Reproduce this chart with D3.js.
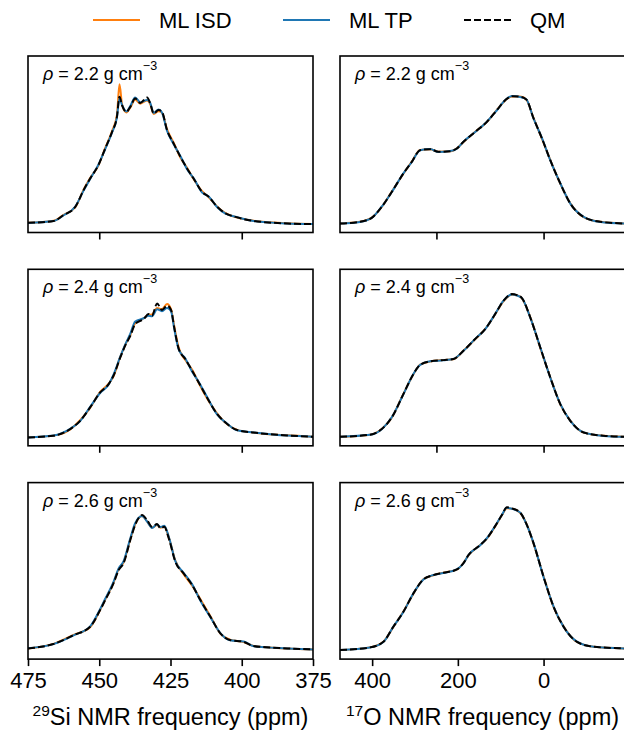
<!DOCTYPE html>
<html>
<head>
<meta charset="utf-8">
<script src="https://cdn.jsdelivr.net/npm/d3@7"></script>
<style>
  body { margin: 0; background: #fff; }
  text { font-family: "Liberation Sans", Arial, Helvetica, sans-serif; fill: #000; }
</style>
</head>
<body>
<svg id="chart" width="624" height="735"></svg>
<script>
// series names and colours
const seriesNames = ["ML ISD", "ML TP", "QM"];
const densities = ["2.2", "2.4", "2.6"];

// 29Si, rho = 2.2
const si22Ppm = [475, 466, 462.6, 458.4, 455.5, 453.2, 450.3, 447.9, 445.5, 443.8, 442.9, 442.0, 440.5, 439.1, 437.4, 435.6, 433.2, 432.1, 430.9, 429.2, 428.0, 426.2, 423.9, 421.5, 419.2, 416.9, 413.9, 411.6, 408.6, 405.7, 402.2, 395.8, 384, 375];
const si22Qm  = [0.005, 0.02, 0.064, 0.129, 0.259, 0.349, 0.453, 0.582, 0.711, 0.828, 0.983, 0.917, 0.866, 0.905, 0.970, 0.936, 0.978, 0.932, 0.854, 0.880, 0.867, 0.724, 0.621, 0.517, 0.427, 0.349, 0.245, 0.207, 0.129, 0.078, 0.051, 0.02, 0.0, -0.005];
const si22Isd = [0.005, 0.021, 0.066, 0.127, 0.262, 0.352, 0.450, 0.586, 0.718, 0.840, 1.081, 0.925, 0.862, 0.900, 0.962, 0.930, 0.955, 0.925, 0.850, 0.872, 0.860, 0.730, 0.628, 0.510, 0.432, 0.345, 0.250, 0.204, 0.131, 0.080, 0.050, 0.021, 0.001, -0.005];
const si22Tp  = [0.004, 0.019, 0.062, 0.132, 0.255, 0.346, 0.456, 0.578, 0.706, 0.822, 0.972, 0.920, 0.870, 0.912, 0.978, 0.940, 0.958, 0.935, 0.858, 0.885, 0.862, 0.718, 0.615, 0.522, 0.422, 0.352, 0.240, 0.210, 0.126, 0.076, 0.052, 0.019, 0.0, -0.004];

// 29Si, rho = 2.4
const si24Ppm = [475, 466.1, 460.2, 456.7, 453.2, 449.7, 446.7, 445.0, 442.6, 440.9, 439.1, 437.4, 434.4, 432.7, 431.5, 429.7, 428.0, 426.2, 424.8, 423.7, 422.1, 419.8, 417.4, 415.1, 412.2, 408.6, 405.1, 401.6, 395.8, 384, 375];
const si24Qm  = [-0.005, 0.008, 0.06, 0.124, 0.228, 0.344, 0.409, 0.474, 0.616, 0.707, 0.784, 0.875, 0.914, 0.953, 0.94, 1.035, 0.984, 1.017, 0.984, 0.849, 0.681, 0.603, 0.512, 0.422, 0.305, 0.176, 0.099, 0.052, 0.033, 0.01, 0.0];
const si24Isd = [-0.004, 0.009, 0.058, 0.128, 0.224, 0.348, 0.412, 0.470, 0.622, 0.712, 0.790, 0.880, 0.920, 0.945, 0.950, 1.000, 0.990, 1.030, 0.990, 0.860, 0.690, 0.596, 0.520, 0.418, 0.300, 0.180, 0.097, 0.054, 0.032, 0.011, 0.001];
const si24Tp  = [-0.005, 0.010, 0.062, 0.122, 0.232, 0.340, 0.405, 0.482, 0.624, 0.716, 0.800, 0.895, 0.920, 0.940, 0.935, 0.990, 0.975, 1.000, 0.975, 0.840, 0.676, 0.608, 0.505, 0.426, 0.310, 0.172, 0.101, 0.050, 0.034, 0.009, 0.0];

// 29Si, rho = 2.6
const si26Ppm = [475, 466.1, 459.0, 453.2, 449.7, 447.9, 445.0, 443.2, 441.5, 439.1, 437.4, 435.0, 433.2, 431.5, 429.7, 428.5, 427.2, 425.6, 423.3, 420.4, 417.4, 414.5, 411.0, 407.5, 404.1, 399.3, 395.8, 384, 375];
const si26Qm  = [0.013, 0.047, 0.116, 0.181, 0.31, 0.388, 0.518, 0.621, 0.673, 0.854, 0.971, 1.048, 1.009, 0.957, 0.978, 0.945, 0.957, 0.867, 0.686, 0.595, 0.505, 0.388, 0.259, 0.13, 0.078, 0.064, 0.031, 0.013, 0.005];
const si26Isd = [0.012, 0.048, 0.118, 0.178, 0.312, 0.392, 0.522, 0.628, 0.680, 0.860, 0.975, 1.040, 1.000, 0.950, 0.970, 0.950, 0.962, 0.875, 0.694, 0.590, 0.500, 0.395, 0.262, 0.128, 0.080, 0.062, 0.032, 0.012, 0.005];
const si26Tp  = [0.014, 0.046, 0.114, 0.184, 0.318, 0.398, 0.530, 0.634, 0.688, 0.868, 0.985, 1.040, 0.998, 0.948, 0.975, 0.955, 0.965, 0.880, 0.690, 0.600, 0.510, 0.382, 0.255, 0.132, 0.076, 0.066, 0.030, 0.013, 0.004];

// 17O, rho = 2.2
const o22Ppm = [475, 428.3, 401, 377.6, 354.2, 327.1, 307.5, 288, 264.7, 245.3, 218, 202.4, 186.9, 159.6, 132.3, 108.9, 89.5, 73.8, 54.4, 40.4, 23.3, 3.7, -15.7, -39, -62.4, -93.5, -132.5, -190];
const o22Qm  = [0, 0.013, 0.044, 0.129, 0.245, 0.388, 0.478, 0.569, 0.577, 0.556, 0.561, 0.582, 0.634, 0.711, 0.789, 0.88, 0.957, 0.988, 0.983, 0.963, 0.815, 0.66, 0.491, 0.311, 0.155, 0.051, 0.013, 0];
const o22Isd = [0, 0.013, 0.045, 0.128, 0.247, 0.386, 0.480, 0.570, 0.576, 0.557, 0.560, 0.583, 0.633, 0.712, 0.788, 0.882, 0.955, 0.986, 0.985, 0.962, 0.818, 0.657, 0.493, 0.309, 0.156, 0.050, 0.013, 0];
const o22Tp  = [0, 0.012, 0.043, 0.130, 0.244, 0.389, 0.477, 0.568, 0.578, 0.555, 0.562, 0.581, 0.635, 0.710, 0.790, 0.879, 0.958, 0.990, 0.982, 0.964, 0.813, 0.662, 0.490, 0.312, 0.154, 0.052, 0.012, 0];

// 17O, rho = 2.4
const o24Ppm = [475, 405, 377.6, 354.2, 327.1, 303.7, 288, 264.7, 233.6, 210.3, 186.9, 159.6, 136.2, 112.9, 93.4, 73.8, 62.1, 50.5, 31, 7.7, -15.7, -39, -62.4, -93.5, -140, -190];
const o24Qm  = [0, 0.016, 0.06, 0.15, 0.331, 0.487, 0.559, 0.585, 0.595, 0.603, 0.668, 0.759, 0.836, 0.953, 1.056, 1.108, 1.1, 1.077, 0.926, 0.693, 0.46, 0.254, 0.124, 0.033, 0.008, 0];
const o24Isd = [0, 0.016, 0.061, 0.149, 0.333, 0.485, 0.560, 0.584, 0.596, 0.602, 0.669, 0.758, 0.837, 0.951, 1.054, 1.102, 1.098, 1.075, 0.928, 0.690, 0.462, 0.252, 0.125, 0.032, 0.008, 0];
const o24Tp  = [0, 0.015, 0.059, 0.151, 0.330, 0.488, 0.558, 0.586, 0.594, 0.604, 0.667, 0.760, 0.835, 0.954, 1.057, 1.104, 1.097, 1.076, 0.925, 0.695, 0.459, 0.255, 0.123, 0.034, 0.007, 0];

// 17O, rho = 2.6
const o26Ppm = [475, 405, 373.8, 350.5, 327.1, 303.7, 280.4, 257, 233.6, 202.4, 186.9, 175, 147.9, 132.3, 108.9, 97.3, 85.6, 73.8, 54.4, 38.8, 23.3, 0, -23.4, -46.8, -78, -117, -190];
const o26Qm  = [0, 0.021, 0.064, 0.181, 0.297, 0.44, 0.549, 0.582, 0.6, 0.626, 0.675, 0.738, 0.815, 0.867, 0.984, 1.048, 1.108, 1.1, 1.066, 0.97, 0.828, 0.569, 0.336, 0.181, 0.064, 0.026, 0.013];
const o26Isd = [0, 0.021, 0.065, 0.180, 0.299, 0.438, 0.550, 0.581, 0.601, 0.625, 0.676, 0.737, 0.816, 0.866, 0.982, 1.046, 1.100, 1.098, 1.064, 0.972, 0.826, 0.571, 0.334, 0.182, 0.063, 0.026, 0.013];
const o26Tp  = [0, 0.020, 0.063, 0.182, 0.296, 0.441, 0.548, 0.583, 0.599, 0.627, 0.674, 0.739, 0.814, 0.868, 0.985, 1.049, 1.104, 1.097, 1.067, 0.969, 0.830, 0.567, 0.338, 0.180, 0.065, 0.025, 0.012];

// axis domains and ticks
const siDomain = [475, 375];
const oDomain = [475, -190];
const yDomain = [-0.07, 1.30];
const siTicksUpper = [450, 400];
const siTicksBottom = [475, 450, 425, 400, 375];
const oTicksUpper = [250, 0];
const oTicksBottom = [400, 200, 0];

const colors = {"ML ISD": "#ff7f0e", "ML TP": "#1f77b4", "QM": "#000"};

const panels = [
  {col: 0, row: 0, ppm: si22Ppm, isd: si22Isd, tp: si22Tp, qm: si22Qm},
  {col: 1, row: 0, ppm: o22Ppm, isd: o22Isd, tp: o22Tp, qm: o22Qm},
  {col: 0, row: 1, ppm: si24Ppm, isd: si24Isd, tp: si24Tp, qm: si24Qm},
  {col: 1, row: 1, ppm: o24Ppm, isd: o24Isd, tp: o24Tp, qm: o24Qm},
  {col: 0, row: 2, ppm: si26Ppm, isd: si26Isd, tp: si26Tp, qm: si26Qm},
  {col: 1, row: 2, ppm: o26Ppm, isd: o26Isd, tp: o26Tp, qm: o26Qm}
];

const svg = d3.select("#chart");
const pw = 285, ph = 176.5;
const colX = [28, 340];
const rowY = [56, 269.3, 482.6];

// legend
const legendX = [93, 283, 464];
seriesNames.forEach((name, i) => {
  const lg = svg.append("g").attr("transform", `translate(${legendX[i]},20)`);
  lg.append("line")
    .attr("x1", 0).attr("x2", 47).attr("y1", 0).attr("y2", 0)
    .attr("stroke", colors[name]).attr("stroke-width", 2)
    .attr("stroke-dasharray", name === "QM" ? "7,3" : null);
  lg.append("text").attr("x", 66).attr("y", 7.5)
    .style("font-size", "22px").text(name);
});

panels.forEach((p, k) => {
  const g = svg.append("g").attr("transform", `translate(${colX[p.col]},${rowY[p.row]})`);
  const x = d3.scaleLinear().domain(p.col === 0 ? siDomain : oDomain).range([0, pw]);
  const y = d3.scaleLinear().domain(yDomain).range([ph, 0]);

  g.append("clipPath").attr("id", "clip" + k)
    .append("rect").attr("width", pw).attr("height", ph);

  const line = d3.line()
    .x((d, i) => x(p.ppm[i]))
    .y(d => y(d))
    .curve(d3.curveMonotoneX);

  const lines = g.append("g").attr("clip-path", `url(#clip${k})`);
  lines.append("path").attr("d", line(p.isd))
    .attr("fill", "none").attr("stroke", colors["ML ISD"]).attr("stroke-width", 2);
  lines.append("path").attr("d", line(p.tp))
    .attr("fill", "none").attr("stroke", colors["ML TP"]).attr("stroke-width", 2);
  lines.append("path").attr("d", line(p.qm))
    .attr("fill", "none").attr("stroke", colors["QM"]).attr("stroke-width", 2)
    .attr("stroke-dasharray", "7,3");

  const bottom = p.row === 2;
  const ticks = p.col === 0 ? (bottom ? siTicksBottom : siTicksUpper)
                            : (bottom ? oTicksBottom : oTicksUpper);
  const axis = d3.axisBottom(x).tickValues(ticks).tickSize(7).tickSizeOuter(0)
    .tickPadding(6)
    .tickFormat(bottom ? d3.format("d") : () => "");
  const ax = g.append("g").attr("transform", `translate(0,${ph})`).call(axis);
  ax.select(".domain").remove();
  ax.selectAll(".tick line").attr("stroke-width", 1.6);
  ax.selectAll(".tick text").style("font-size", "22px").attr("font-family", null);

  g.append("rect").attr("width", pw).attr("height", ph)
    .attr("fill", "none").attr("stroke", "#000").attr("stroke-width", 1.6);

  const t = g.append("text").attr("x", 15).attr("y", 24).style("font-size", "18px");
  t.append("tspan").style("font-style", "italic").text("ρ");
  t.append("tspan").text(` = ${densities[p.row]} g cm`);
  t.append("tspan").attr("dy", -10).style("font-size", "12.5px").text("−3");
});

// axis titles
const titles = [["29", "Si NMR frequency (ppm)"], ["17", "O NMR frequency (ppm)"]];
titles.forEach((tt, i) => {
  const t = svg.append("text")
    .attr("x", colX[i] + pw / 2).attr("y", 725)
    .attr("text-anchor", "middle").style("font-size", "23.5px");
  t.append("tspan").attr("dy", -9).style("font-size", "15.5px").text(tt[0]);
  t.append("tspan").attr("dy", 9).text(tt[1]);
});
</script>
</body>
</html>
